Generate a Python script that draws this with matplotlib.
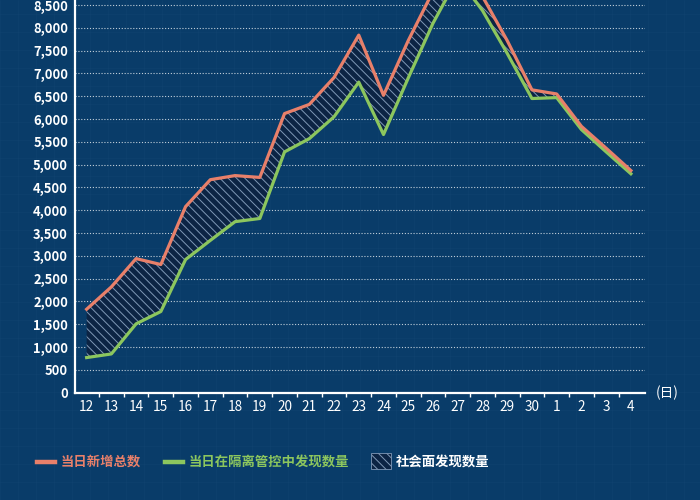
import matplotlib
matplotlib.use("Agg")
import matplotlib.pyplot as plt
from matplotlib.lines import Line2D
from matplotlib.patches import Rectangle
from matplotlib.ticker import FuncFormatter, FixedLocator

plt.rcParams['font.family'] = ['Noto Sans CJK SC', 'DejaVu Sans']
plt.rcParams['hatch.linewidth'] = 0.7

days = ['12', '13', '14', '15', '16', '17', '18', '19', '20', '21', '22', '23',
        '24', '25', '26', '27', '28', '29', '30', '1', '2', '3', '4']
total_new = [1830, 2320, 2940, 2810, 4080, 4670, 4760, 4720, 6120, 6320, 6910, 7840,
             6520, 7720, 8800, 9200, 8690, 7720, 6640, 6550, 5840, 5360, 4870]
in_quarantine = [770, 850, 1510, 1780, 2920, 3340, 3750, 3820, 5280, 5570, 6050, 6810,
                 5660, 6900, 8100, 9100, 8380, 7440, 6450, 6470, 5770, 5280, 4800]
legend_labels = ['当日新增总数', '当日在隔离管控中发现数量', '社会面发现数量']

BG = '#093c69'
ORANGE = '#e8806a'
GREEN = '#8cc65e'
NAVY = '#0c2444'
HATCH = '#7f98b6'
W, H = 700, 500

fig = plt.figure(figsize=(7, 5), dpi=100)
fig.patch.set_facecolor(BG)

# subtle blueprint grid in background
for gx in range(0, W + 1, 18):
    fig.add_artist(Line2D([gx / W, gx / W], [0, 1], transform=fig.transFigure,
                          color='#2a5a88', lw=0.5, alpha=0.15, zorder=0))
for gy in range(0, H + 1, 18):
    fig.add_artist(Line2D([0, 1], [gy / H, gy / H], transform=fig.transFigure,
                          color='#2a5a88', lw=0.5, alpha=0.15, zorder=0))

ax = fig.add_axes([75 / W, 107.3 / H, 570 / W, 392.7 / H])
ax.set_facecolor('none')

x = list(range(len(days)))
ax.fill_between(x, in_quarantine, total_new, facecolor=NAVY, edgecolor=HATCH,
                hatch='\\\\\\\\', linewidth=0, zorder=2)
ax.plot(x, total_new, color=ORANGE, lw=2.3, solid_joinstyle='round', zorder=4)
ax.plot(x, in_quarantine, color=GREEN, lw=2.3, solid_joinstyle='round', zorder=3)

ax.set_xlim(-0.47, 22.57)
ax.set_ylim(0, 8610)

ax.set_xticks(x)
ax.set_xticklabels(days)
ax.xaxis.set_minor_locator(FixedLocator([i + 0.5 for i in range(len(days) - 1)]))
ax.set_yticks(list(range(0, 8501, 500)))
ax.yaxis.set_major_formatter(FuncFormatter(lambda v, p: f'{int(v):,}'))

ax.tick_params(axis='x', which='major', length=0, pad=5, labelsize=9.8, labelcolor='white')
ax.tick_params(axis='x', which='minor', length=3, width=1, color='white', direction='out')
ax.tick_params(axis='y', length=0, pad=5, labelsize=9.3, labelcolor='white')
for lab in ax.get_yticklabels():
    lab.set_fontweight('bold')

ax.yaxis.grid(True, color='white', linestyle=(0, (1, 1.6)), lw=0.8, alpha=0.75, zorder=1)
ax.set_axisbelow(True)

for s in ['top', 'right']:
    ax.spines[s].set_visible(False)
for s in ['left', 'bottom']:
    ax.spines[s].set_color('white')
    ax.spines[s].set_linewidth(1.6)
    ax.spines[s].set_zorder(5)

ax.text((667 - 75) / 570, 0, '(日)', transform=ax.transAxes, ha='center', va='center',
        color='white', fontsize=9.8)

# legend
ly = 1 - 461.5 / H
fig.add_artist(Line2D([37 / W, 55 / W], [ly, ly], transform=fig.transFigure,
                      color=ORANGE, lw=3.2))
fig.text(61 / W, ly, legend_labels[0], color=ORANGE, fontsize=9.6, fontweight='bold',
         va='center', ha='left')
fig.add_artist(Line2D([165 / W, 183 / W], [ly, ly], transform=fig.transFigure,
                      color=GREEN, lw=3.2))
fig.text(189 / W, ly, legend_labels[1], color=GREEN, fontsize=9.6, fontweight='bold',
         va='center', ha='left')
fig.add_artist(Rectangle((371 / W, 1 - 469 / H), 20 / W, 16 / H, transform=fig.transFigure,
                         facecolor=NAVY, edgecolor=HATCH, hatch='\\\\\\\\', lw=0.6))
fig.text(396 / W, ly, legend_labels[2], color='white', fontsize=9.6, fontweight='bold',
         va='center', ha='left')

fig.savefig('out.png', dpi=100, facecolor=BG)
